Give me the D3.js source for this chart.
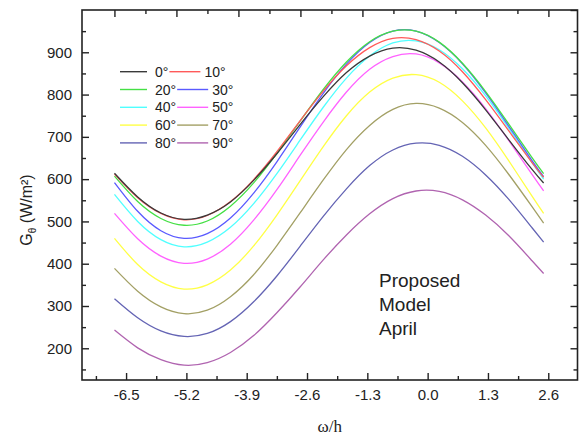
<!DOCTYPE html>
<html><head><meta charset="utf-8">
<script src="https://cdn.jsdelivr.net/npm/d3@7"></script>
<style>
body{margin:0;background:#fff}
svg{display:block}
text{font-family:Arial,"Liberation Sans",sans-serif;fill:#222}
</style>
</head><body>
<svg id="chart" width="582" height="439"></svg>
<script>
// ---- data ----
const xValues = [-6.75,-6.25,-5.75,-5.25,-4.75,-4.25,-3.75,-3.25,-2.75,-2.25,-1.75,-1.25,-0.75,-0.25,0.25,0.75,1.25,1.75,2.25,2.5];
const angleLabels = ["0°","10°","20°","30°","40°","50°","60°","70°","80°","90°"];
const g0  = [614,558,520,505,515,546,597,660,729,795,852,891,910,905,877,828,764,693,623,591];
const g10 = [612,556,519,504,514,547,599,665,738,808,868,911,933,930,903,854,788,714,639,604];
const g20 = [607,547,507,491,501,536,591,661,737,812,877,925,950,950,924,874,807,730,651,613];
const g30 = [592,524,478,460,471,508,567,641,723,803,872,923,950,950,923,873,804,725,644,606];
const g40 = [564,500,457,440,451,486,542,613,692,770,839,891,922,927,906,861,797,720,639,600];
const g50 = [519,459,418,401,411,446,503,575,656,735,806,860,890,896,875,830,767,691,611,572];
const g60 = [460,398,357,340,350,385,442,515,596,677,750,806,839,847,829,785,721,643,560,519];
const g70 = [389,335,298,282,290,322,374,443,520,598,670,727,765,779,768,734,680,611,535,496];
const g80 = [317,272,241,228,235,263,310,371,441,512,577,632,669,685,680,654,610,552,485,451];
const g90 = [243,201,173,160,166,190,230,284,345,409,468,518,554,572,571,551,515,466,407,377];
const seriesValues = [g0,g10,g20,g30,g40,g50,g60,g70,g80,g90];
const seriesColors = ["#3a3a3a","#ff5a5a","#45e045","#5a5aff","#50ffff","#ff62ff","#ffff45","#a3a065","#6464b4","#b064b0"];
const xTickValues = [-6.5,-5.2,-3.9,-2.6,-1.3,0.0,1.3,2.6];
const xMinorValues = [-7.15,-5.85,-4.55,-3.25,-1.95,-0.65,0.65,1.95];
const yTickValues = [200,300,400,500,600,700,800,900,1000];
const yLabelValues = [200,300,400,500,600,700,800,900];
const yMinorValues = [150,250,350,450,550,650,750,850,950];

// ---- layout ----
const L = 82, R = 577.5, T = 10, B = 380;
const svg = d3.select("#chart");
const x = d3.scaleLinear().domain([-7.45, 3.23]).range([L, R]);
const xTop = d3.scaleLinear().domain([-7.18, 3.21]).range([L, R]);
const y = d3.scaleLinear().domain([125, 1000]).range([B, T]);

// curves
const clipId = "clip";
svg.append("clipPath").attr("id", clipId).append("rect")
  .attr("x", L).attr("y", T).attr("width", R - L).attr("height", B - T);
const line = d3.line().x((d, i) => x(xValues[i])).y(d => y(d)).curve(d3.curveNatural);
const gLines = svg.append("g").attr("clip-path", `url(#${clipId})`);
for (let k = seriesValues.length - 1; k >= 0; k--) {
  gLines.append("path").datum(seriesValues[k])
    .attr("d", line).attr("fill", "none")
    .attr("stroke", seriesColors[k]).attr("stroke-width", 1.3);
}

// axes
function styleAxis(g) {
  g.select(".domain").remove();
  g.selectAll("line").attr("stroke", "#222").attr("stroke-width", 1.4);
  g.selectAll("text").attr("fill", "#222").style("font-size", "15px")
    .style("font-family", 'Arial,"Liberation Sans",sans-serif');
}
const fmtX = d => d.toFixed(1);
svg.append("g").attr("transform", `translate(0,${B})`)
  .call(d3.axisBottom(x).tickValues(xTickValues).tickSizeInner(-7).tickSizeOuter(0).tickPadding(9).tickFormat(fmtX))
  .call(styleAxis);
svg.append("g").attr("transform", `translate(0,${B})`)
  .call(d3.axisBottom(x).tickValues(xMinorValues).tickSizeInner(-4).tickSizeOuter(0).tickFormat(""))
  .call(styleAxis);
svg.append("g").attr("transform", `translate(0,${T})`)
  .call(d3.axisTop(xTop).tickValues(xTickValues).tickSizeInner(-7).tickSizeOuter(0).tickFormat(""))
  .call(styleAxis);
svg.append("g").attr("transform", `translate(0,${T})`)
  .call(d3.axisTop(xTop).tickValues(xMinorValues.slice(1)).tickSizeInner(-4).tickSizeOuter(0).tickFormat(""))
  .call(styleAxis);
svg.append("g").attr("transform", `translate(${L},0)`)
  .call(d3.axisLeft(y).tickValues(yLabelValues).tickSizeInner(-7).tickSizeOuter(0).tickPadding(10))
  .call(styleAxis);
svg.append("g").attr("transform", `translate(${L},0)`)
  .call(d3.axisLeft(y).tickValues(yMinorValues).tickSizeInner(-4).tickSizeOuter(0).tickFormat(""))
  .call(styleAxis);
svg.append("g").attr("transform", `translate(${R},0)`)
  .call(d3.axisRight(y).tickValues(yTickValues).tickSizeInner(-7).tickSizeOuter(0).tickFormat(""))
  .call(styleAxis);
svg.append("g").attr("transform", `translate(${R},0)`)
  .call(d3.axisRight(y).tickValues(yMinorValues).tickSizeInner(-4).tickSizeOuter(0).tickFormat(""))
  .call(styleAxis);

// frame
svg.append("rect").attr("x", L).attr("y", T).attr("width", R - L).attr("height", B - T)
  .attr("fill", "none").attr("stroke", "#222").attr("stroke-width", 1.6);

// axis titles
svg.append("text").attr("x", (L + R) / 2).attr("y", 432).attr("text-anchor", "middle")
  .style("font-size", "17px").style("font-family", '"Liberation Serif","Times New Roman",serif')
  .text("ω/h");
const yt = svg.append("text").attr("transform", "translate(32,210) rotate(-90)")
  .attr("text-anchor", "middle").style("font-size", "16px");
yt.append("tspan").text("G");
yt.append("tspan").attr("dy", 4).style("font-size", "10px").text("θ");
yt.append("tspan").attr("dy", -4).text(" (W/m²)");

// legend
const legRows = [0,1,2,3,4];
const legY0 = 71.7, legDy = 17.8;
legRows.forEach(r => {
  const yy = legY0 + r * legDy;
  const a = 2 * r, b = 2 * r + 1;
  svg.append("line").attr("x1", 120).attr("x2", 147).attr("y1", yy).attr("y2", yy)
    .attr("stroke", seriesColors[a]).attr("stroke-width", 1.4);
  const t1 = svg.append("text").attr("x", 155).attr("y", yy + 5).style("font-size", "14px").text(angleLabels[a]);
  const w1 = t1.node().getComputedTextLength();
  const lx = 155 + w1 + 1;
  svg.append("line").attr("x1", lx).attr("x2", lx + 31).attr("y1", yy).attr("y2", yy)
    .attr("stroke", seriesColors[b]).attr("stroke-width", 1.4);
  svg.append("text").attr("x", lx + 35).attr("y", yy + 5).style("font-size", "14px").text(angleLabels[b]);
});

// annotation
const noteLines = ["Proposed", "Model", "April"];
noteLines.forEach((s, i) => {
  svg.append("text").attr("x", 379).attr("y", 287 + i * 24).style("font-size", "19px").text(s);
});
</script>
</body></html>
